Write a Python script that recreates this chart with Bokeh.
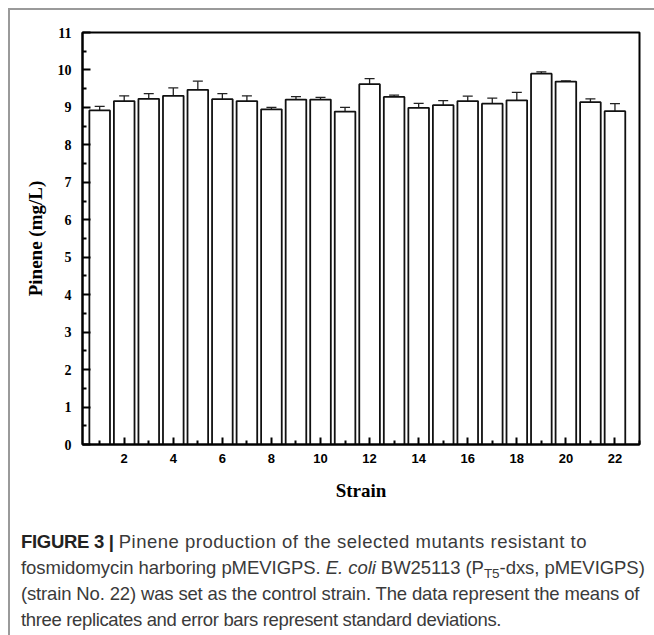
from bokeh.plotting import figure
from bokeh.models import ColumnDataSource, Whisker, TeeHead, FixedTicker, Div
from bokeh.layouts import column
from bokeh.embed import file_html
from bokeh.resources import INLINE

strains = list(range(1, 23))
pinene = [8.92, 9.17, 9.23, 9.31, 9.47, 9.22, 9.17, 8.95, 9.21, 9.21, 8.89,
          9.62, 9.28, 8.99, 9.06, 9.17, 9.10, 9.19, 9.90, 9.69, 9.14, 8.90]
sd = [0.11, 0.14, 0.14, 0.21, 0.23, 0.15, 0.14, 0.05, 0.08, 0.06, 0.11,
      0.15, 0.05, 0.12, 0.12, 0.13, 0.15, 0.21, 0.05, 0.02, 0.09, 0.20]
x_major = [2, 4, 6, 8, 10, 12, 14, 16, 18, 20, 22]
x_minor = [1, 3, 5, 7, 9, 11, 13, 15, 17, 19, 21, 23]
y_major = list(range(0, 12))

src = ColumnDataSource(dict(
    x=strains, top=pinene,
    upper=[v + e for v, e in zip(pinene, sd)],
    lower=[v - e for v, e in zip(pinene, sd)],
))

p = figure(width=636, height=514, x_range=(0.3, 23), y_range=(0, 11),
           output_backend="svg", toolbar_location=None,
           min_border_left=72, min_border_right=7, min_border_top=22,
           min_border_bottom=80)
p.grid.visible = False
p.outline_line_color = "black"
p.outline_line_width = 2
p.background_fill_color = "white"
p.border_fill_color = "white"

p.vbar(x="x", top="top", width=0.84, bottom=0, source=src,
       fill_color="white", line_color="#111111", line_width=1.8)
p.add_layout(Whisker(source=src, base="x", upper="upper", lower="lower",
                     line_color="#222222", line_width=1.3,
                     upper_head=TeeHead(size=10, line_color="#222222", line_width=1.3),
                     lower_head=TeeHead(size=10, line_color="#222222", line_width=1.3)))

xa = p.xaxis[0]
xa.ticker = FixedTicker(ticks=x_major, minor_ticks=x_minor)
xa.axis_line_width = 2
xa.major_tick_in = 7
xa.major_tick_out = 0
xa.minor_tick_in = 4
xa.minor_tick_out = 0
xa.major_tick_line_width = 2
xa.minor_tick_line_width = 2
xa.major_label_text_font = "Liberation Sans"
xa.major_label_text_font_style = "bold"
xa.major_label_text_font_size = "13px"
xa.major_label_text_color = "black"
xa.major_label_standoff = 9
xa.axis_label = "Strain"
xa.axis_label_text_font = "Liberation Serif"
xa.axis_label_text_font_style = "bold"
xa.axis_label_text_font_size = "19px"
xa.axis_label_text_color = "black"
xa.axis_label_standoff = 14

ya = p.yaxis[0]
ya.ticker = FixedTicker(ticks=y_major,
                        minor_ticks=[i + 0.5 for i in range(0, 11)])
ya.axis_line_width = 2
ya.major_tick_in = 8
ya.major_tick_out = 0
ya.minor_tick_in = 4
ya.minor_tick_out = 0
ya.major_tick_line_width = 2
ya.minor_tick_line_width = 2
ya.major_label_text_font = "Liberation Serif"
ya.major_label_text_font_style = "bold"
ya.major_label_text_font_size = "14px"
ya.major_label_text_color = "black"
ya.major_label_standoff = 11
ya.axis_label = "Pinene (mg/L)"
ya.axis_label_text_font = "Liberation Serif"
ya.axis_label_text_font_style = "bold"
ya.axis_label_text_font_size = "19px"
ya.axis_label_text_color = "black"
ya.axis_label_standoff = 9

sub = '<sub style="font-size:13.5px; line-height:0; vertical-align:-4px;">T5</sub>'
caption = (
    '<div style="padding:0 0 0 6px; font-family:\'Liberation Sans\', Arial, sans-serif; '
    'font-size:18.5px; line-height:26px; color:#3a3a3a; white-space:nowrap;">'
    '<div><b style="color:#222; letter-spacing:-0.3px;">FIGURE 3 |</b> '
    '<span style="letter-spacing:0.5px;">Pinene production of the selected mutants resistant to</span></div>'
    '<div style="letter-spacing:-0.05px;">fosmidomycin harboring pMEVIGPS. <i>E. coli</i> BW25113 (P' + sub + '-dxs, pMEVIGPS)</div>'
    '<div style="letter-spacing:-0.15px;">(strain No. 22) was set as the control strain. The data represent the means of</div>'
    '<div style="letter-spacing:-0.35px;">three replicates and error bars represent standard deviations.</div>'
    '</div>')
div = Div(text=caption, width=636, height=104)

layout = column(p, div, styles={"border-left": "2px solid #9a9a9a",
                                "border-top": "2px solid #9a9a9a",
                                "margin-left": "8px", "margin-top": "8px"})

open("out.html", "w").write(file_html(layout, INLINE))
